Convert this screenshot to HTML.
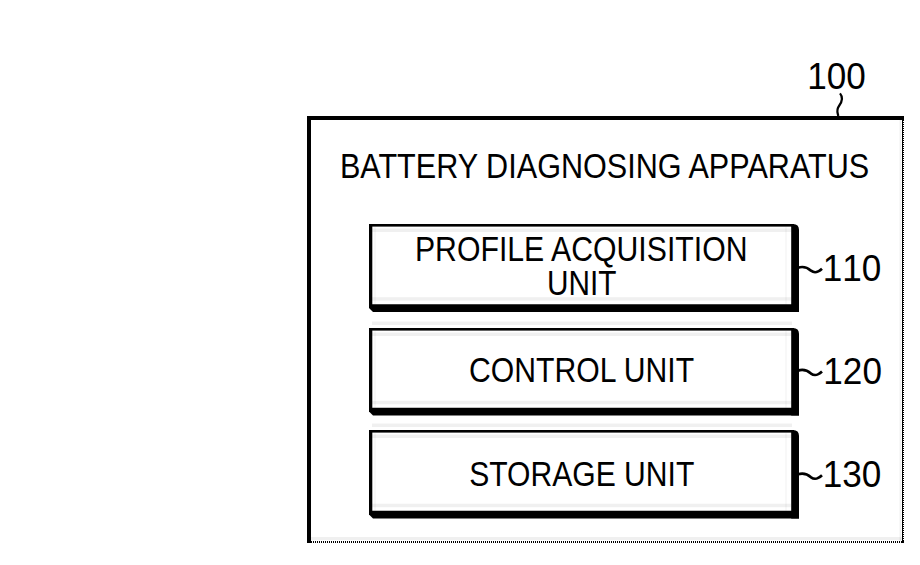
<!DOCTYPE html>
<html><head><meta charset="utf-8"><style>
html,body{margin:0;padding:0;background:#fff;width:920px;height:565px;overflow:hidden}
svg{display:block}
text{font-family:"Liberation Sans", sans-serif}
</style></head><body>
<svg width="920" height="565" viewBox="0 0 920 565">
<rect x="307" y="116" width="4" height="427" fill="#000"/>
<rect x="307" y="116" width="597" height="4" fill="#000"/>
<rect x="902" y="116" width="1" height="427" fill="#000"/>
<line x1="903.5" y1="116" x2="903.5" y2="543" stroke="#000" stroke-width="1" stroke-dasharray="1 1"/>
<line x1="307" y1="542" x2="904" y2="542" stroke="#000" stroke-width="2" stroke-dasharray="1 1"/>
<rect x="369" y="224" width="3.3" height="84" fill="#000"/>
<rect x="369" y="224" width="425" height="2.6" fill="#000"/>
<path d="M791.2 224 L793 224 Q799 224 799 230 L799 312 L791.2 312 Z" fill="#000"/>
<polygon points="369,304.2 799,304.2 799,312 373,312 369,308" fill="#000"/>
<rect x="369" y="328" width="3.3" height="83.60000000000002" fill="#000"/>
<rect x="369" y="328" width="425" height="2.6" fill="#000"/>
<path d="M791.2 328 L793 328 Q799 328 799 334 L799 415.6 L791.2 415.6 Z" fill="#000"/>
<polygon points="369,407.8 799,407.8 799,415.6 373,415.6 369,411.6" fill="#000"/>
<rect x="369" y="430" width="3.3" height="84.5" fill="#000"/>
<rect x="369" y="430" width="425" height="2.6" fill="#000"/>
<path d="M791.2 430 L793 430 Q799 430 799 436 L799 518.5 L791.2 518.5 Z" fill="#000"/>
<polygon points="369,510.7 799,510.7 799,518.5 373,518.5 369,514.5" fill="#000"/>
<g fill="#000" fill-opacity="0.06">
<rect x="372" y="228.5" width="419" height="3.5"/>
<rect x="372" y="297.2" width="419" height="3.5"/>
<rect x="374.5" y="227" width="1" height="77.19999999999999"/>
<rect x="785.5" y="227" width="1" height="77.19999999999999"/>
<rect x="372" y="321.5" width="420" height="3.5"/>
<rect x="372" y="332.5" width="419" height="3.5"/>
<rect x="372" y="400.8" width="419" height="3.5"/>
<rect x="374.5" y="331" width="1" height="76.80000000000001"/>
<rect x="785.5" y="331" width="1" height="76.80000000000001"/>
<rect x="372" y="423.5" width="420" height="3.5"/>
<rect x="372" y="434.5" width="419" height="3.5"/>
<rect x="372" y="503.7" width="419" height="3.5"/>
<rect x="374.5" y="433" width="1" height="77.69999999999999"/>
<rect x="785.5" y="433" width="1" height="77.69999999999999"/>
<rect x="899.5" y="120" width="1.5" height="421"/>
<rect x="311" y="537" width="591" height="3"/>
</g>
<g font-family="Liberation Sans" fill="#000">
<text transform="translate(339.89 178.40) scale(0.8697 1)" font-size="35.2">BATTERY DIAGNOSING APPARATUS</text>
<text transform="translate(414.92 261.00) scale(0.84 1)" font-size="36">PROFILE ACQUISITION</text>
<text transform="translate(546.90 294.60) scale(0.827 1)" font-size="36">UNIT</text>
<text transform="translate(469.07 381.90) scale(0.838 1)" font-size="36">CONTROL UNIT</text>
<text transform="translate(469.23 485.90) scale(0.836 1)" font-size="36">STORAGE UNIT</text>
<text transform="translate(807.22 89.20) scale(0.95 1)" font-size="37" style="font-kerning:none">100</text>
<text transform="translate(822.72 280.90) scale(0.95 1)" font-size="37" style="font-kerning:none">110</text>
<text transform="translate(823.32 383.60) scale(0.93 1)" font-size="37.8" style="font-kerning:none">120</text>
<text transform="translate(822.72 486.60) scale(0.93 1)" font-size="37.8" style="font-kerning:none">130</text>
</g>
<path d="M840 93.4 C843 97 842 102 839 106 C836 110 837.5 112 838.3 116" stroke="#000" stroke-width="2.2" fill="none"/>
<path d="M798 267.7 C803 266.1 807 267.1 811 270.7 C815 273.5 818 272.3 822 268.7" stroke="#000" stroke-width="2.7" fill="none"/>
<path d="M798 370.6 C803 369.0 807 370.0 811 373.6 C815 376.4 818 375.2 822 371.6" stroke="#000" stroke-width="2.7" fill="none"/>
<path d="M798 474.3 C803 472.7 807 473.7 811 477.3 C815 480.1 818 478.9 822 475.3" stroke="#000" stroke-width="2.7" fill="none"/>
</svg>
</body></html>
